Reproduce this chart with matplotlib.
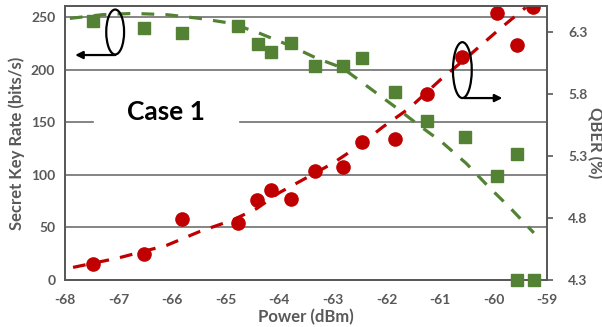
import matplotlib
matplotlib.use("Agg")
import matplotlib.pyplot as plt
from matplotlib.patches import Ellipse

# ── Data ──────────────────────────────────────────────────────
power_skr = [-67.47, -66.53, -65.82, -64.78, -64.41, -64.16, -63.79, -63.33,
             -62.82, -62.45, -61.85, -61.24, -60.59, -59.94, -59.56, -59.27]
skr       = [15, 25, 58, 54, 76, 86, 77, 104, 107, 131, 134, 177, 212, 254, 223, 259]

power_qber = [-67.47, -66.53, -65.82, -64.78, -64.39, -64.16, -63.79, -63.33,
              -62.82, -62.45, -61.85, -61.24, -60.53, -59.94, -59.56, -59.56, -59.25]
qber       = [6.39, 6.33, 6.29, 6.35, 6.20, 6.14, 6.21, 6.03,
              6.03, 6.09, 5.82, 5.58, 5.45, 5.14, 5.32, 4.30, 4.30]

# trend lines as drawn in the reference
skr_fit_x = [-67.85, -67.0, -66.1, -65.49, -64.87, -64.42, -64.0, -63.57,
             -63.0, -62.5, -62.08, -61.58, -61.0, -60.51, -59.9, -59.4]
skr_fit_y = [12, 21, 33, 46, 57, 68, 83, 95, 111, 128, 145, 163, 190, 211, 238, 259]

qber_fit_x = [-67.91, -67.3, -66.73, -66.1, -65.49, -64.89, -64.37, -63.8, -63.31,
              -62.82, -62.32, -61.85, -61.4, -60.96, -60.51, -60.09, -59.71, -59.25]
qber_fit_y = [6.41, 6.44, 6.45, 6.44, 6.41, 6.37, 6.29, 6.19, 6.09,
              6.01, 5.85, 5.70, 5.55, 5.41, 5.24, 5.05, 4.89, 4.68]

left_ticks  = [0, 50, 100, 150, 200, 250]
right_ticks = [4.3, 4.8, 5.3, 5.8, 6.3]
x_ticks     = [-68, -67, -66, -65, -64, -63, -62, -61, -60, -59]

RED   = "#C00000"
GREEN = "#548235"
GREY  = "#595959"
GRID  = "#6f6f6f"

plt.rcParams["font.family"] = ["Lato", "DejaVu Sans"]

fig = plt.figure(figsize=(6.02, 3.27), dpi=100)
ax = fig.add_axes([0.108, 0.1437, 0.801, 0.838])
ax2 = ax.twinx()

# ── Gridlines (150 line broken by the "Case 1" label) ─────────
for v in [50, 100, 200, 250]:
    ax.axhline(v, color=GRID, lw=1.2, zorder=0)
ax.axhline(150, xmin=0, xmax=0.058, color=GRID, lw=1.2, zorder=0)
ax.axhline(150, xmin=0.363, xmax=1, color=GRID, lw=1.2, zorder=0)

# ── Secret key rate (left) ────────────────────────────────────
ax.plot(skr_fit_x, skr_fit_y, color=RED, lw=2.3, ls=(0, (4, 3.5)), zorder=2)
ax.plot(power_skr, skr, "o", color=RED, ms=9.5, zorder=3)

# ── QBER (right) ──────────────────────────────────────────────
ax2.plot(qber_fit_x, qber_fit_y, color=GREEN, lw=2.3, ls=(0, (4, 3.5)), zorder=2)
ax2.plot(power_qber, qber, "s", color=GREEN, ms=8.5, zorder=3, clip_on=False)

ax.set_xlim(-68, -59)
ax.set_ylim(0, 260.4)
ax2.set_ylim(4.3, 6.51)

ax.set_xticks(x_ticks)
ax.set_xticklabels([str(t) for t in x_ticks])
ax.set_yticks(left_ticks)
ax2.set_yticks(right_ticks)
ax2.set_yticklabels([f"{t:.1f}" for t in right_ticks])

for a in (ax, ax2):
    for s in a.spines.values():
        s.set_color(GREY)
        s.set_linewidth(1.3)
    for lab in a.get_xticklabels() + a.get_yticklabels():
        lab.set_fontweight("bold")
        lab.set_color(GREY)
        lab.set_fontsize(10)

ax.tick_params(axis="y", length=0, pad=7)
ax.tick_params(axis="x", length=0, pad=10)
ax2.tick_params(axis="y", length=4, width=1.2, color=GREY, pad=11)

ax.set_xlabel("Power (dBm)", fontsize=12, fontweight="bold", color=GREY, labelpad=2)
ax.set_ylabel("Secret Key Rate (bits/s)", fontsize=12, fontweight="bold", color=GREY, labelpad=4)
ax2.set_ylabel("QBER (%)", fontsize=12, fontweight="bold", color=GREY, rotation=270, labelpad=11)

ax.text(0.21, 0.613, "Case 1", transform=ax.transAxes, ha="center", va="center",
        fontsize=19, fontweight="bold", color="black")

# ── Axis indicators (ellipse + arrow) ─────────────────────────
ax2.add_patch(Ellipse((0.104, 0.905), 0.037, 0.164, transform=ax.transAxes,
                      fill=False, ec="black", lw=1.6, zorder=5, clip_on=False))
ax2.annotate("", xy=(0.021, 0.821), xytext=(0.104, 0.821),
             xycoords="axes fraction", textcoords="axes fraction",
             arrowprops=dict(arrowstyle="-|>", color="black", lw=1.6, mutation_scale=11,
                             shrinkA=0, shrinkB=0))
ax2.add_patch(Ellipse((0.824, 0.766), 0.039, 0.204, transform=ax.transAxes,
                      fill=False, ec="black", lw=1.6, zorder=5, clip_on=False))
ax2.annotate("", xy=(0.907, 0.664), xytext=(0.828, 0.664),
             xycoords="axes fraction", textcoords="axes fraction",
             arrowprops=dict(arrowstyle="-|>", color="black", lw=1.6, mutation_scale=11,
                             shrinkA=0, shrinkB=0))

plt.savefig("out.png", dpi=100)
plt.close()
